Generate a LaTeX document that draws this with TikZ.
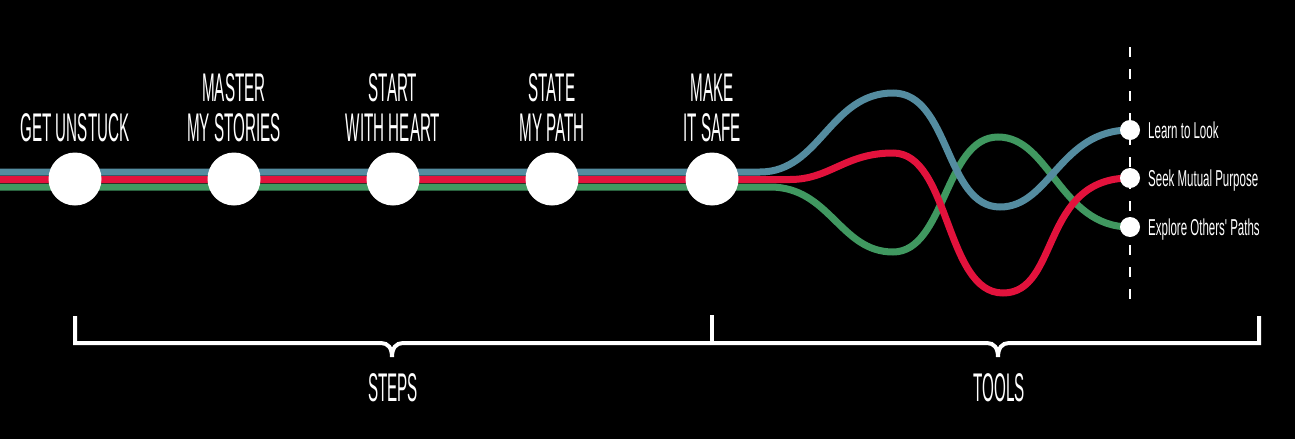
\documentclass[tikz,border=0pt]{standalone}
\usepackage{fontspec}
\newfontfamily\bigfont[FakeStretch=0.38]{Liberation Sans}
\newfontfamily\smallfont[FakeStretch=0.5]{Liberation Sans}
\definecolor{pblue}{RGB}{84,140,160}
\definecolor{pred}{RGB}{226,18,60}
\definecolor{pgreen}{RGB}{64,152,96}
\tikzset{
  stepdot/.style={circle,fill=white,minimum size=53pt,inner sep=0pt},
  tooldot/.style={circle,fill=white,minimum size=20pt,inner sep=0pt},
  steplabel/.style={text=white,align=center,inner sep=0pt,anchor=south,
    font=\bigfont\fontsize{40}{40}\selectfont},
  toollabel/.style={text=white,inner sep=0pt,anchor=base west,
    font=\smallfont\fontsize{23}{23}\selectfont},
  grouplabel/.style={text=white,inner sep=0pt,anchor=south,
    font=\bigfont\fontsize{40}{40}\selectfont},
  track/.style={line width=7pt},
  bracket/.style={draw=white,line width=4pt,line join=miter},
  divider/.style={draw=white,line width=2pt,dash pattern=on 10pt off 12pt}
}
\begin{document}
\begin{tikzpicture}[x=1pt,y=-1pt]
\useasboundingbox (0,0) rectangle (1295,439);
\fill[black] (0,0) rectangle (1295,439);

% coordinates
\coordinate (b0) at (0,172);
\coordinate (r0) at (0,179.5);
\coordinate (g0) at (0,187);

% dashed divider
\coordinate (dtop) at (1130,47);
\coordinate (dbot) at (1130,310);
\draw[divider] (dtop) -- (dbot);

% tool dots positions
\coordinate (t1c) at (1130,130);
\coordinate (t2c) at (1130,178);
\coordinate (t3c) at (1130,227);

% tracks
\draw[track,pgreen,line cap=round] (g0) -- (770,187)
  .. controls (830,187) and (840,252) .. (893,252)
  .. controls (945,252) and (945,137) .. (998,137)
  .. controls (1050,137) and (1060,227) .. (t3c);
\draw[track,pred,line cap=round] (r0) -- (790,179.5)
  .. controls (830,179.5) and (845,153) .. (893,153)
  .. controls (950,153) and (945,293) .. (1003,293)
  .. controls (1060,293) and (1040,178) .. (t2c);
\draw[track,pblue,line cap=round] (b0) -- (760,172)
  .. controls (820,172) and (830,93) .. (893,93)
  .. controls (950,93) and (945,207) .. (1000,207)
  .. controls (1050,207) and (1060,130) .. (t1c);

% step dots
\node[stepdot] (s1) at (75,179) {};
\node[stepdot] (s2) at (234,179) {};
\node[stepdot] (s3) at (393,179) {};
\node[stepdot] (s4) at (552,179) {};
\node[stepdot] (s5) at (712,179) {};

% step labels
\node[steplabel] (l1) at (75,142) {GET UNSTUCK};
\node[steplabel] (l2) at (234,142) {MASTER\\MY STORIES};
\node[steplabel] (l3) at (393,142) {START\\WITH HEART};
\node[steplabel] (l4) at (552,142) {STATE\\MY PATH};
\node[steplabel] (l5) at (712,142) {MAKE\\IT SAFE};

% tool dots
\node[tooldot] (t1) at (t1c) {};
\node[tooldot] (t2) at (t2c) {};
\node[tooldot] (t3) at (t3c) {};

% tool labels
\node[toollabel] (tl1) at (1148,138) {Learn to Look};
\node[toollabel] (tl2) at (1148,186) {Seek Mutual Purpose};
\node[toollabel] (tl3) at (1148,235) {Explore Others' Paths};

% brackets
\coordinate (bl) at (75,316);
\coordinate (bm) at (712,315);
\coordinate (br) at (1259,316);
\draw[bracket] (bl) -- (75,343) -- (381,343)
  .. controls (388,343) and (392,348) .. (392,357)
  .. controls (392,348) and (396,343) .. (403,343) -- (712,343)
  -- (987,343)
  .. controls (994,343) and (998,348) .. (998,357)
  .. controls (998,348) and (1002,343) .. (1009,343) -- (1259,343) -- (br);
\draw[bracket] (bm) -- (712,343);

% group labels
\node[grouplabel] (g1) at (393,402) {STEPS};
\node[grouplabel] (g2) at (999,402) {TOOLS};
\end{tikzpicture}
\end{document}
